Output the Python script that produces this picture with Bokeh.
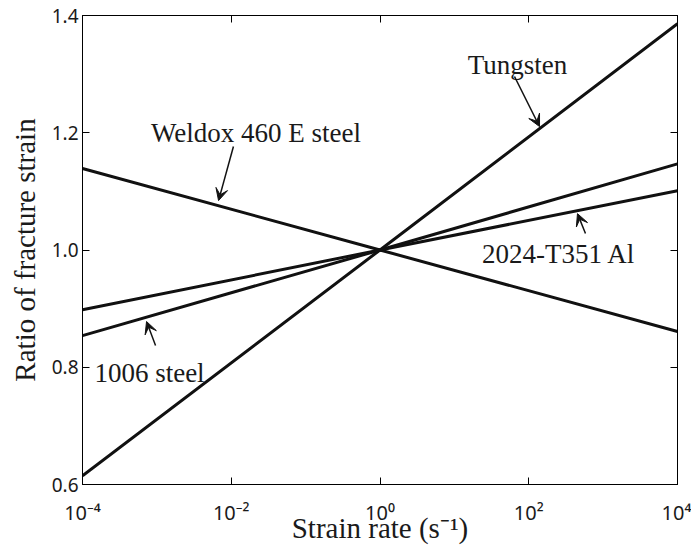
from bokeh.plotting import figure
from bokeh.models import (Label, Arrow, VeeHead, FixedTicker, LogAxis, LinearAxis,
                          CustomJSTickFormatter)
from bokeh.embed import file_html
from bokeh.resources import INLINE

# ---- data ----
rate = [1e-4, 1.0, 1e4]
tungsten = [0.615, 1.0, 1.386]
weldox = [1.139, 1.0, 0.861]
steel_1006 = [0.854, 1.0, 1.147]
al_2024 = [0.898, 1.0, 1.101]

xticks = [1e-4, 1e-2, 1.0, 1e2, 1e4]
xtick_labels = ["10\u207b\u2074", "10\u207b\u00b2", "10\u2070", "10\u00b2", "10\u2074"]
yticks = [0.6, 0.8, 1.0, 1.2, 1.4]
ytick_labels = ["0.6", "0.8", "1.0", "1.2", "1.4"]

# annotation texts, their anchors (data coords) and arrows (tail -> tip)
ann_text = ["Tungsten", "Weldox 460 E steel", "2024-T351 Al", "1006 steel"]
ann_x = [70.6, 0.0215, 255.0, 7.96e-4]
ann_y = [1.315, 1.200, 0.994, 0.791]
arr_x0 = [64.3, 0.0107, 579.0, 9.6e-4]
arr_y0 = [1.296, 1.1765, 1.028, 0.837]
arr_x1 = [139.6, 0.00675, 452.0, 7.26e-4]
arr_y1 = [1.2106, 1.0843, 1.062, 0.878]

SERIF = "Liberation Serif"
SANS = "Noto Sans"
TXT = "#1a1a1a"

p = figure(width=691, height=549, x_axis_type="log",
           x_range=(1e-4, 1e4), y_range=(0.6, 1.4),
           output_backend="svg", toolbar_location=None,
           min_border_left=82, min_border_right=14,
           min_border_top=15, min_border_bottom=65)
p.background_fill_color = "white"
p.border_fill_color = "white"
p.grid.visible = False
p.outline_line_color = "black"
p.outline_line_width = 1

xfmt = CustomJSTickFormatter(args=dict(tvals=xticks, tlabels=xtick_labels), code="""
const lt = Math.log10(tick);
for (let i = 0; i < tvals.length; i++) {
  if (Math.abs(Math.log10(tvals[i]) - lt) < 1e-6) return tlabels[i];
}
return '';
""")
yfmt = CustomJSTickFormatter(args=dict(tvals=yticks, tlabels=ytick_labels), code="""
for (let i = 0; i < tvals.length; i++) {
  if (Math.abs(tvals[i] - tick) < 1e-6) return tlabels[i];
}
return '';
""")

def style_axis(ax, ticks, show_labels):
    ax.ticker = FixedTicker(ticks=ticks)
    ax.axis_line_color = "black"
    ax.axis_line_width = 1
    ax.major_tick_in = 7
    ax.major_tick_out = 0
    ax.major_tick_line_color = "black"
    ax.minor_tick_line_color = None
    if not show_labels:
        ax.major_label_text_font_size = "1px"
        ax.major_label_text_color = None
        ax.major_label_standoff = 0

xa = p.xaxis[0]
style_axis(xa, xticks, True)
xa.formatter = xfmt
xa.major_label_text_font = SANS
xa.major_label_text_font_size = "20px"
xa.major_label_text_color = TXT
xa.major_label_standoff = 14
xa.axis_label = "Strain rate (s\u207b\u00b9)"
xa.axis_label_text_font = SERIF
xa.axis_label_text_font_size = "29px"
xa.axis_label_text_font_style = "normal"
xa.axis_label_text_color = TXT
xa.axis_label_standoff = -17

ya = p.yaxis[0]
style_axis(ya, yticks, True)
ya.formatter = yfmt
ya.major_label_text_font = SANS
ya.major_label_text_font_size = "19px"
ya.major_label_text_color = TXT
ya.major_label_standoff = 4
ya.axis_label = "Ratio of fracture strain"
ya.axis_label_text_font = SERIF
ya.axis_label_text_font_size = "29px"
ya.axis_label_text_font_style = "normal"
ya.axis_label_text_color = TXT
ya.axis_label_standoff = 8

top = LogAxis()
style_axis(top, xticks, False)
p.add_layout(top, "above")
right = LinearAxis()
style_axis(right, yticks, False)
p.add_layout(right, "right")

for vals in (tungsten, weldox, steel_1006, al_2024):
    p.line(rate, vals, line_width=3, line_color="#111111")

for t, x, y in zip(ann_text, ann_x, ann_y):
    p.add_layout(Label(x=x, y=y, text=t, text_font=SERIF, text_font_size="27px",
                       text_align="center", text_baseline="middle",
                       text_color=TXT))

for x0, y0, x1, y1 in zip(arr_x0, arr_y0, arr_x1, arr_y1):
    p.add_layout(Arrow(end=VeeHead(size=12, fill_color="#111111", line_color="#111111",
                                   line_width=1),
                       x_start=x0, y_start=y0, x_end=x1, y_end=y1,
                       line_width=1.5, line_color="#111111"))

open("out.html", "w").write(file_html(p, INLINE))
